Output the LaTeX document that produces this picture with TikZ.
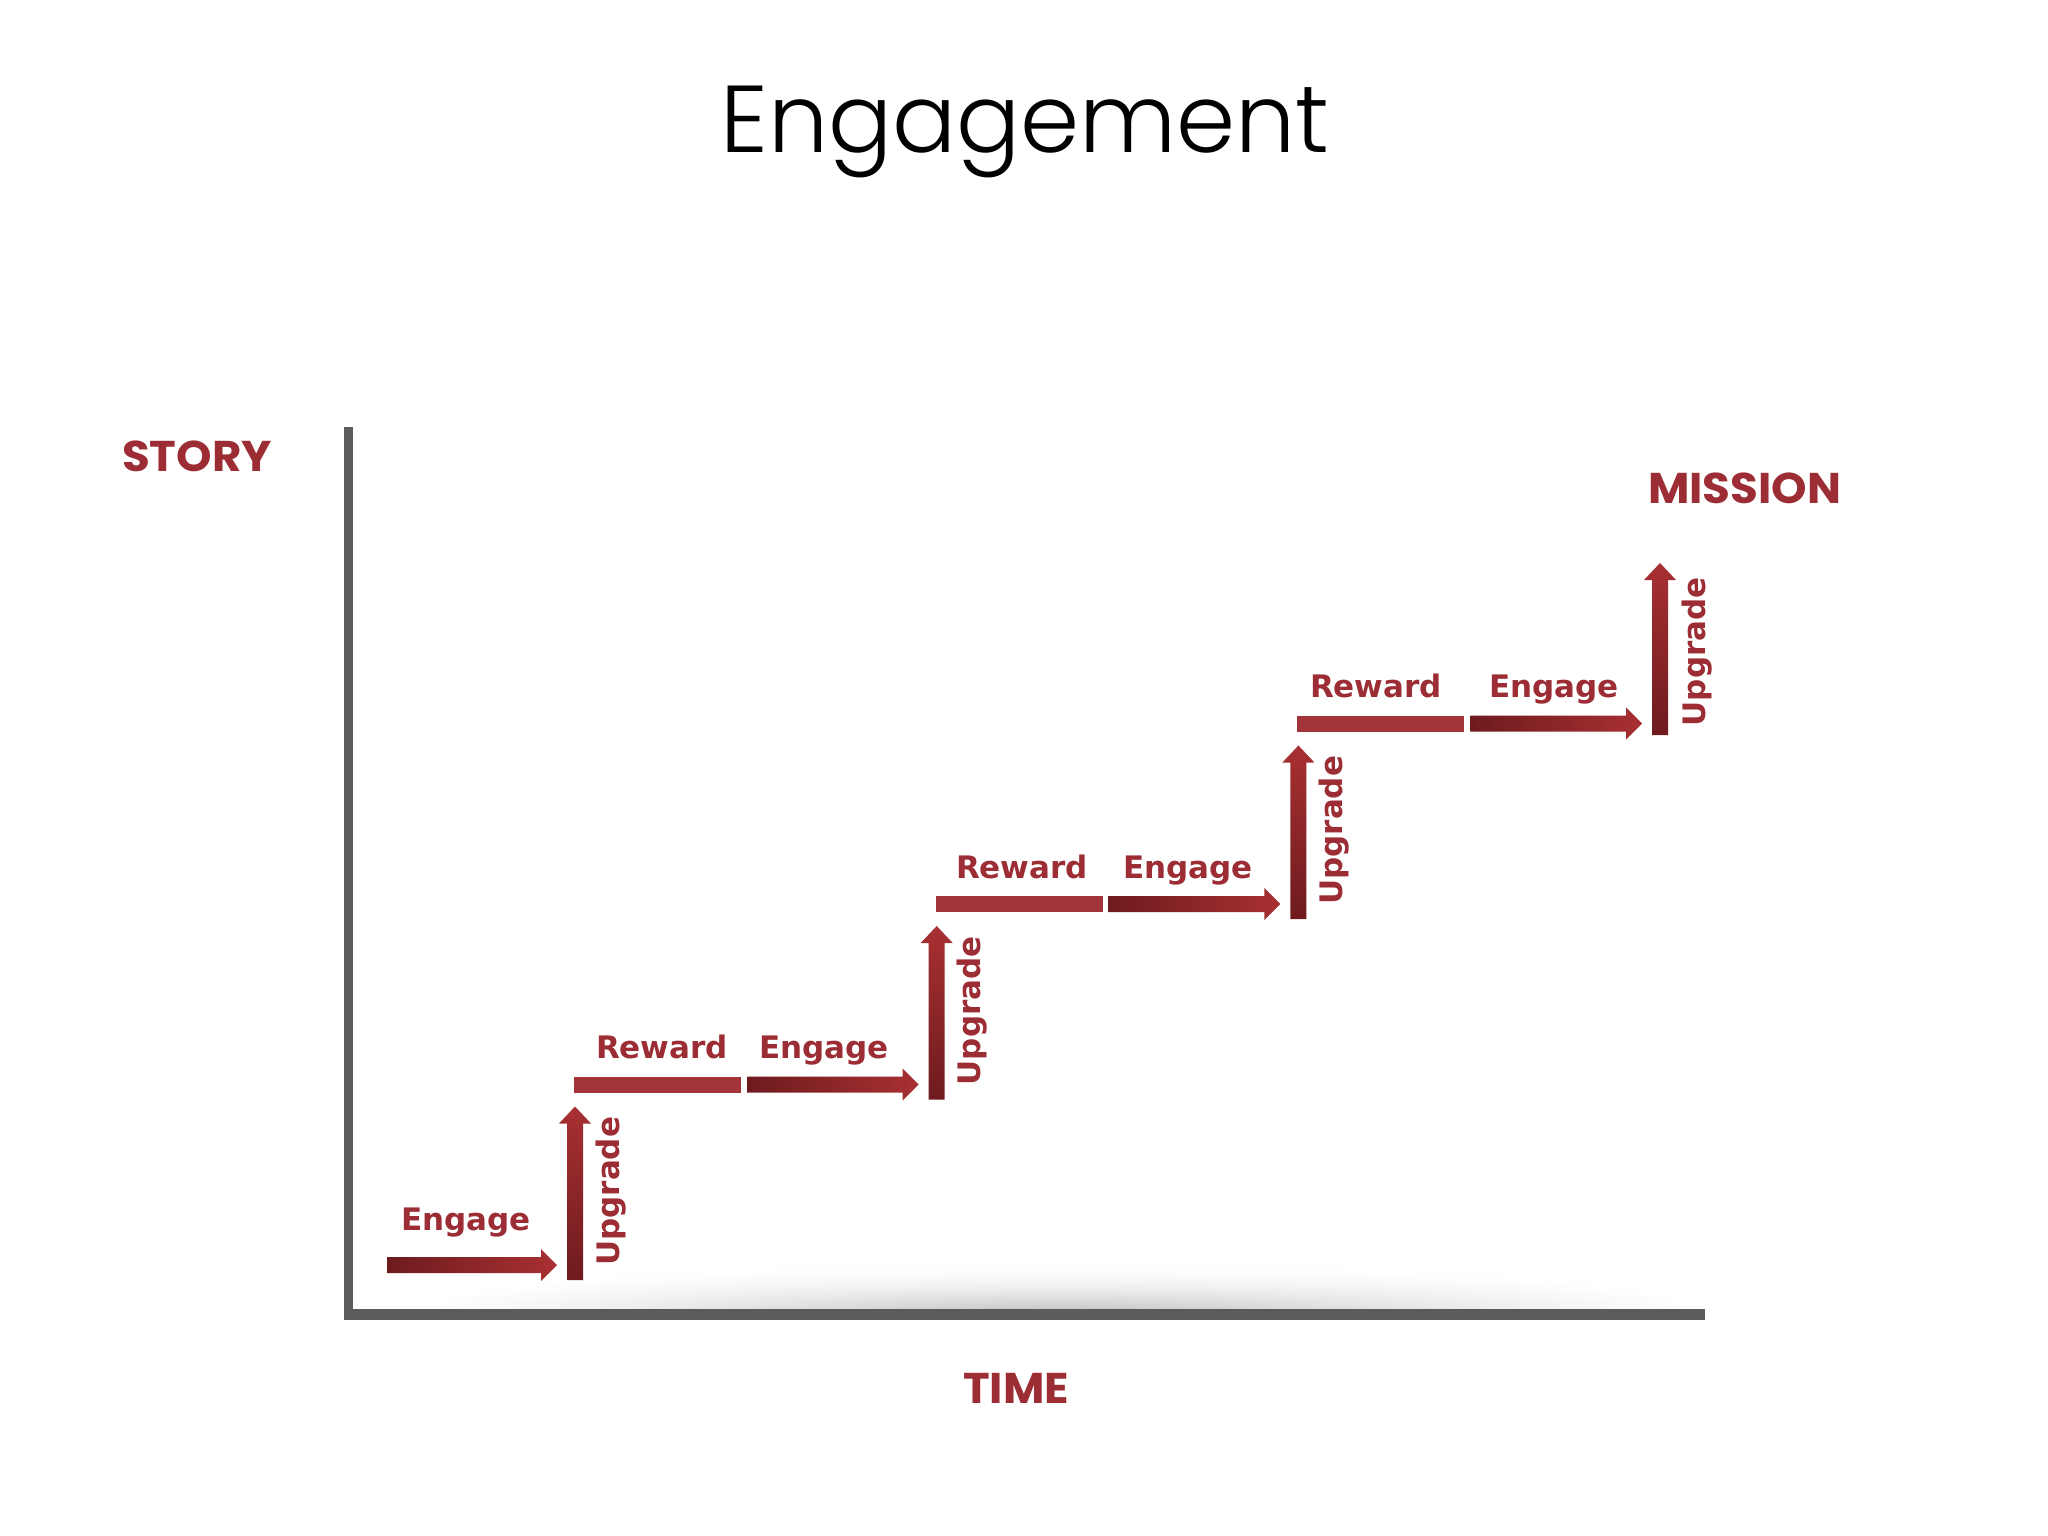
\documentclass[tikz,border=0pt]{standalone}
\usepackage{fontspec}
\newfontfamily\titlefont{Poppins Light}
\newfontfamily\capfont{Poppins Bold}
\newfontfamily\labfont{DejaVu Sans}
\usetikzlibrary{fadings}
\tikzfading[name=softshadow, inner color=transparent!0, outer color=transparent!100]
\definecolor{rd}{RGB}{168,48,50}
\definecolor{dk}{RGB}{110,27,30}
\definecolor{bar}{RGB}{163,52,57}
\definecolor{txt}{RGB}{156,45,53}
\definecolor{ax}{RGB}{90,91,93}
\newcommand\engarrow[3]{% x0, x1, y
  \shade[left color=dk, right color=rd] (#1,#3-8) -- (#2-16,#3-8) -- (#2-16,#3-16) -- (#2,#3) -- (#2-16,#3+16) -- (#2-16,#3+8) -- (#1,#3+8) -- cycle;}
\newcommand\upgarrow[3]{% x, ybottom, ytop
  \shade[bottom color=dk, top color=rd] (#1-8,#2) -- (#1-8,#3+17) -- (#1-16,#3+17) -- (#1,#3) -- (#1+16,#3+17) -- (#1+8,#3+17) -- (#1+8,#2) -- cycle;}
\newcommand\rewbar[3]{% x0, x1, y
  \fill[bar] (#1,#3-8) rectangle (#2,#3+8);}
\newcommand\widecaps[1]{\scalebox{1.05}[1]{#1}}
\tikzset{
  lab/.style={inner sep=0pt, anchor=base, text=txt, font=\labfont\bfseries\fontsize{31}{36}\selectfont},
  uplab/.style={lab, rotate=90, anchor=base west},
  axlab/.style={inner sep=0pt, anchor=base, text=txt, font=\capfont\fontsize{43}{50}\selectfont}
}
\begin{document}
\begin{tikzpicture}[x=1pt,y=-1pt]
\useasboundingbox (0,0) rectangle (2048,1536);
\fill[white] (0,0) rectangle (2048,1536);
% title
\node[inner sep=0pt, anchor=base, font=\titlefont\fontsize{95}{110}\selectfont] (title) at (1025,153) {Engagement};
% shadow above the time axis
\shade[top color=white, bottom color=black!45, path fading=softshadow] (430,1262) rectangle (1690,1358);
\fill[white] (300,1319) rectangle (1760,1400);
% axes
\fill[ax] (344,427) rectangle (353,1320);
\fill[ax] (344,1309) rectangle (1705,1320);
\node[axlab, anchor=base west] (story) at (122,471) {\widecaps{STORY}};
\node[axlab] (time) at (1016,1403) {\widecaps{TIME}};
\node[axlab, anchor=base west] (mission) at (1648,503) {\widecaps{MISSION}};
% step 0
\engarrow{387}{557}{1265}
\node[lab] (eng0) at (466,1230) {Engage};
\upgarrow{575}{1280}{1106.5}
\node[uplab] (up0) at (619,1266) {Upgrade};
% step 1
\rewbar{574}{741}{1084.5}
\node[lab] (rew1) at (662,1058) {Reward};
\engarrow{747}{918.7}{1084.5}
\node[lab] (eng1) at (824,1058) {Engage};
\upgarrow{936.7}{1099.5}{926}
\node[uplab] (up1) at (980.7,1085.5) {Upgrade};
% step 2
\rewbar{935.7}{1102.7}{904}
\node[lab] (rew2) at (1022,878) {Reward};
\engarrow{1108.7}{1280.4}{904}
\node[lab] (eng2) at (1188,878) {Engage};
\upgarrow{1298.4}{919}{745.5}
\node[uplab] (up2) at (1342.4,905) {Upgrade};
% step 3
\rewbar{1297.4}{1464.4}{723.5}
\node[lab] (rew3) at (1376,697) {Reward};
\engarrow{1470.4}{1642}{723.5}
\node[lab] (eng3) at (1554,697) {Engage};
\upgarrow{1660}{735}{563}
\node[uplab] (up3) at (1705,726.5) {Upgrade};
\end{tikzpicture}
\end{document}
